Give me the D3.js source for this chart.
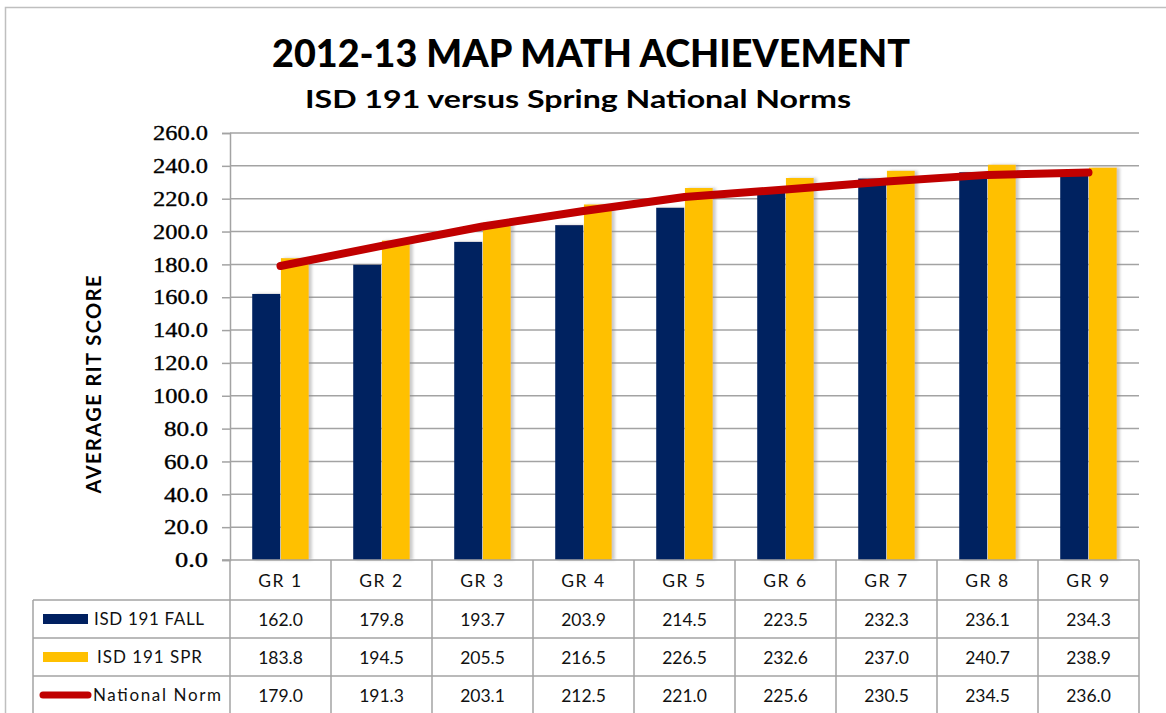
<!DOCTYPE html>
<html>
<head>
<meta charset="utf-8">
<script src="https://cdnjs.cloudflare.com/ajax/libs/d3/7.8.5/d3.min.js"></script>
<style>
  html, body { margin: 0; padding: 0; background: #fff; }
  svg { display: block; }
</style>
</head>
<body>
<div id="chart"></div>
<script>
// chart data
const grades = ["GR 1", "GR 2", "GR 3", "GR 4", "GR 5", "GR 6", "GR 7", "GR 8", "GR 9"];
const fallScores = [162.0, 179.8, 193.7, 203.9, 214.5, 223.5, 232.3, 236.1, 234.3];
const springScores = [183.8, 194.5, 205.5, 216.5, 226.5, 232.6, 237.0, 240.7, 238.9];
const nationalNorm = [179.0, 191.3, 203.1, 212.5, 221.0, 225.6, 230.5, 234.5, 236.0];
const yTicks = [0, 20, 40, 60, 80, 100, 120, 140, 160, 180, 200, 220, 240, 260];
const seriesNames = ["ISD 191 FALL", "ISD 191 SPR", "National Norm"];

const width = 1166, height = 713;
const navy = "#002060", gold = "#FFC000", red = "#C00000";
const gridColor = "#a3a3a3";
const sansFont = "Lato, 'Open Sans', sans-serif";
const serifFont = "'Liberation Serif', 'DejaVu Serif', serif";

// plot area
const plot = { left: 230, right: 1139, top: 133, bottom: 560 };
const table = { left: 33, header: 600, rowH: 38 };

const svg = d3.select("#chart").append("svg")
  .attr("width", width)
  .attr("height", height);

// shadow behind the bars
const defs = svg.append("defs");
defs.append("filter")
  .attr("id", "barShadow")
  .attr("x", "-20%").attr("y", "-5%")
  .attr("width", "160%").attr("height", "110%")
  .append("feDropShadow")
  .attr("dx", 3).attr("dy", 0)
  .attr("stdDeviation", 1.5)
  .attr("flood-color", "#888")
  .attr("flood-opacity", 0.45);

// outer chart border
svg.append("rect")
  .attr("x", 5.5).attr("y", 7.5)
  .attr("width", width + 10).attr("height", height + 10)
  .attr("fill", "#fff")
  .attr("stroke", "#bfbfbf")
  .attr("stroke-width", 1.5);

// titles
svg.append("text")
  .attr("x", 591).attr("y", 67)
  .attr("text-anchor", "middle")
  .style("font-family", sansFont)
  .style("font-weight", "900")
  .style("font-size", "38px")
  .attr("textLength", 638)
  .attr("lengthAdjust", "spacingAndGlyphs")
  .attr("fill", "#000")
  .text("2012-13 MAP MATH ACHIEVEMENT");

svg.append("text")
  .attr("x", 578).attr("y", 108)
  .attr("text-anchor", "middle")
  .style("font-family", sansFont)
  .style("font-weight", "bold")
  .style("font-size", "25px")
  .attr("textLength", 546)
  .attr("lengthAdjust", "spacingAndGlyphs")
  .attr("fill", "#000")
  .text("ISD 191 versus Spring National Norms");

// scales
const x = d3.scaleBand()
  .domain(grades)
  .range([plot.left, plot.right])
  .padding(0);

const bw = x.bandwidth();
const xSub = d3.scaleBand()
  .domain(["fall", "spring"])
  .range([bw * 0.22, bw * 0.78])
  .paddingInner(0.03);

const y = d3.scaleLinear()
  .domain([0, 260])
  .range([plot.bottom, plot.top]);

// gridlines + y axis
const fmt = d3.format(".1f");
const yAxis = d3.axisLeft(y)
  .tickValues(yTicks)
  .tickFormat(fmt)
  .tickSize(8)
  .tickPadding(14);

const gy = svg.append("g")
  .attr("transform", `translate(${plot.left},0)`)
  .call(yAxis)
  .attr("font-family", serifFont)
  .attr("font-size", 21);
gy.select(".domain").attr("stroke", gridColor).attr("stroke-width", 1.5);
gy.selectAll(".tick line").attr("stroke", gridColor).attr("stroke-width", 1.5);
gy.selectAll(".tick text")
  .style("font-family", serifFont)
  .style("font-size", "21px")
  .attr("textLength", d => fmt(d).length * 11)
  .attr("lengthAdjust", "spacingAndGlyphs")
  .attr("fill", "#000")
  .attr("stroke", "#000")
  .attr("stroke-width", 0.35);

svg.append("g")
  .selectAll("line")
  .data(yTicks.filter(d => d > 0))
  .join("line")
  .attr("x1", plot.left).attr("x2", plot.right)
  .attr("y1", d => y(d)).attr("y2", d => y(d))
  .attr("stroke", gridColor)
  .attr("stroke-width", 1.5);

// y axis title
svg.append("text")
  .attr("transform", `translate(101,${(plot.top + plot.bottom) / 2 + 38}) rotate(-90)`)
  .attr("text-anchor", "middle")
  .style("font-family", sansFont)
  .style("font-weight", "bold")
  .style("font-size", "20px")
  .attr("textLength", 218)
  .attr("lengthAdjust", "spacing")
  .attr("fill", "#000")
  .text("AVERAGE  RIT SCORE");

// bars
const barGroup = svg.append("g").attr("filter", "url(#barShadow)");
barGroup.selectAll("rect.fall")
  .data(fallScores)
  .join("rect")
  .attr("class", "fall")
  .attr("x", (d, i) => x(grades[i]) + xSub("fall"))
  .attr("y", d => y(d))
  .attr("width", xSub.bandwidth())
  .attr("height", d => y(0) - y(d))
  .attr("fill", navy);

barGroup.selectAll("rect.spring")
  .data(springScores)
  .join("rect")
  .attr("class", "spring")
  .attr("x", (d, i) => x(grades[i]) + xSub("spring"))
  .attr("y", d => y(d))
  .attr("width", xSub.bandwidth())
  .attr("height", d => y(0) - y(d))
  .attr("fill", gold);

// national norm line
const line = d3.line()
  .x((d, i) => x(grades[i]) + bw / 2)
  .y(d => y(d));

svg.append("path")
  .datum(nationalNorm)
  .attr("d", line)
  .attr("fill", "none")
  .attr("stroke", red)
  .attr("stroke-width", 8)
  .attr("stroke-linecap", "round")
  .attr("stroke-linejoin", "round");

// data table
const tableBottom = table.header + table.rowH * 3 + 1;
const tbl = svg.append("g")
  .attr("stroke", gridColor)
  .attr("stroke-width", 1.5);

// x axis / table top
tbl.append("line")
  .attr("x1", plot.left - 8).attr("x2", plot.right)
  .attr("y1", plot.bottom).attr("y2", plot.bottom);

// horizontal rules
[0, 1, 2].forEach(r => {
  tbl.append("line")
    .attr("x1", table.left).attr("x2", plot.right)
    .attr("y1", table.header + r * table.rowH)
    .attr("y2", table.header + r * table.rowH);
});
tbl.append("line")
  .attr("x1", table.left).attr("x2", plot.right)
  .attr("y1", tableBottom).attr("y2", tableBottom);

// vertical rules
tbl.append("line")
  .attr("x1", table.left).attr("x2", table.left)
  .attr("y1", table.header).attr("y2", tableBottom);
grades.concat(["end"]).forEach(g => {
  const xx = g === "end" ? plot.right : x(g);
  tbl.append("line")
    .attr("x1", xx).attr("x2", xx)
    .attr("y1", plot.bottom).attr("y2", tableBottom);
});

const cellText = sel => sel
  .attr("text-anchor", "middle")
  .style("font-family", sansFont)
  .style("font-size", "17.5px")
  .attr("fill", "#111");

// header labels
svg.append("g").selectAll("text")
  .data(grades)
  .join("text")
  .attr("x", d => x(d) + bw / 2)
  .attr("y", 587)
  .call(cellText)
  .style("letter-spacing", "1.5px")
  .text(d => d);

// value rows
const rows = [fallScores, springScores, nationalNorm];
rows.forEach((vals, r) => {
  svg.append("g").selectAll("text")
    .data(vals)
    .join("text")
    .attr("x", (d, i) => x(grades[i]) + bw / 2)
    .attr("y", table.header + r * table.rowH + 26)
    .call(cellText)
    .text(d => fmt(d));
});

// legend keys in the table
const keyY = r => table.header + r * table.rowH + table.rowH / 2;
svg.append("rect")
  .attr("x", 43).attr("y", keyY(0) - 5)
  .attr("width", 45).attr("height", 10)
  .attr("fill", navy);
svg.append("rect")
  .attr("x", 43).attr("y", keyY(1) - 5)
  .attr("width", 45).attr("height", 10)
  .attr("fill", gold);
svg.append("line")
  .attr("x1", 43).attr("x2", 88)
  .attr("y1", keyY(2)).attr("y2", keyY(2))
  .attr("stroke", red)
  .attr("stroke-width", 7)
  .attr("stroke-linecap", "round");

const legendX = [94, 97, 93];
const legendLen = [110, 105, 128];
seriesNames.forEach((name, r) => {
  svg.append("text")
    .attr("x", legendX[r])
    .attr("y", table.header + r * table.rowH + 25)
    .style("font-family", sansFont)
    .style("font-size", "17px")
    .attr("textLength", legendLen[r])
    .attr("lengthAdjust", "spacing")
    .attr("fill", "#111")
    .text(name);
});
</script>
</body>
</html>
